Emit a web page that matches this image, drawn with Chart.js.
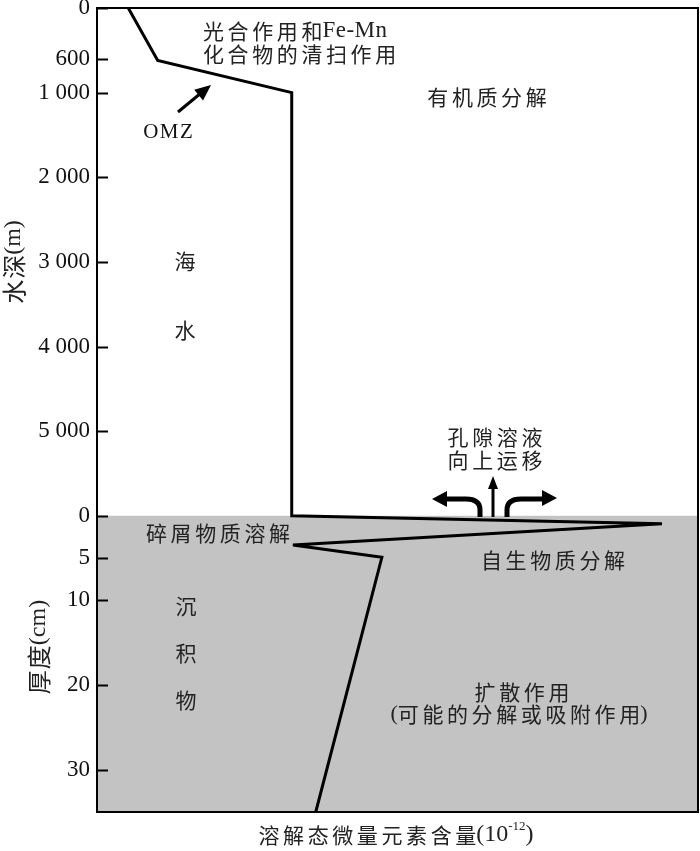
<!DOCTYPE html>
<html>
<head>
<meta charset="utf-8">
<script src="https://cdn.jsdelivr.net/npm/chart.js@4.4.1/dist/chart.umd.min.js"></script>
<style>
  html, body { margin: 0; padding: 0; background: #fff; }
  #wrap { width: 700px; height: 851px; }
</style>
</head>
<body>
<div id="wrap"><canvas id="profileCanvas" width="700" height="851"></canvas></div>
<script>
// water column part of the profile (depth in m)
const waterDepthM = [0, 620, 1000, 6000];
const waterConc = [5.2, 10.1, 32.4, 32.4];
// sediment part (depth below sea floor in cm)
const sedDepthCm = [0.95, 3.45, 4.9, 35];
const sedConc = [94.0, 32.6, 47.4, 36.4];

const seaFloorM = 6000;   // sediment 0 cm sits here on the shared axis
const cmToUnits = 100;    // 1 cm of sediment drawn as 100 m
const waterTicks = [0, 600, 1000, 2000, 3000, 4000, 5000];
const waterTickLabels = ['0', '600', '1 000', '2 000', '3 000', '4 000', '5 000'];
const sedTicks = [0, 5, 10, 20, 30];
const sedTickLabels = ['0', '5', '10', '20', '30'];

const CJK = '"Noto Sans CJK SC", "Noto Sans", sans-serif';
const SERIF = '"Liberation Serif", "DejaVu Serif", serif';
const TXT = '#222';

function sedY(cm) { return seaFloorM + cm * cmToUnits; }

const points = [];
waterDepthM.forEach((d, i) => points.push({ x: waterConc[i], y: d }));
sedDepthCm.forEach((d, i) => points.push({ x: sedConc[i], y: sedY(d) }));

const tickPos = waterTicks.concat(sedTicks.map(sedY));
const tickText = waterTickLabels.concat(sedTickLabels);

// draw a run of text pieces (each with its own font / spacing)
function drawRun(ctx, segs, x, y, align) {
    let total = 0;
    segs.forEach(s => {
        ctx.font = s.font;
        ctx.letterSpacing = (s.sp || 0) + 'px';
        s.w = ctx.measureText(s.t).width - (s.sp || 0);
        total += s.w + (s.gap || 0);
    });
    let cx = align === 'center' ? x - total / 2 : x;
    ctx.textBaseline = 'middle';
    ctx.textAlign = 'left';
    segs.forEach(s => {
        ctx.font = s.font;
        ctx.letterSpacing = (s.sp || 0) + 'px';
        ctx.fillText(s.t, cx, y + (s.dy || 0));
        cx += s.w + (s.gap || 0);
    });
    ctx.letterSpacing = '0px';
}

function cjk(t, size, sp) { return { t: t, font: size + 'px ' + CJK, sp: sp }; }
function lat(t, size, sp) { return { t: t, font: size + 'px ' + SERIF, sp: sp || 0 }; }

function arrowHead(ctx, tipX, tipY, ang, len, half) {
    ctx.beginPath();
    ctx.moveTo(tipX, tipY);
    ctx.lineTo(tipX - len * Math.cos(ang) + half * Math.sin(ang), tipY - len * Math.sin(ang) - half * Math.cos(ang));
    ctx.lineTo(tipX - len * Math.cos(ang) - half * Math.sin(ang), tipY - len * Math.sin(ang) + half * Math.cos(ang));
    ctx.closePath();
    ctx.fill();
}

const sedimentFill = {
    id: 'sedimentFill',
    beforeDatasetsDraw(chart) {
        const { ctx, chartArea: a, scales: { y } } = chart;
        const top = y.getPixelForValue(seaFloorM);
        ctx.save();
        ctx.fillStyle = '#c3c3c3';
        ctx.fillRect(a.left, top, a.right - a.left, a.bottom - top);
        ctx.restore();
    }
};

const frameAndNotes = {
    id: 'frameAndNotes',
    afterDraw(chart) {
        const { ctx, chartArea: a, scales: { y } } = chart;
        ctx.save();
        // frame
        ctx.strokeStyle = '#000';
        ctx.lineWidth = 2;
        ctx.strokeRect(a.left, a.top, a.right - a.left, a.bottom - a.top);
        // inward ticks
        tickPos.forEach(v => {
            const py = Math.round(y.getPixelForValue(v)) + 0.5;
            ctx.beginPath();
            ctx.moveTo(a.left, py);
            ctx.lineTo(a.left + 11, py);
            ctx.stroke();
        });

        ctx.fillStyle = TXT;
        // labels inside the plot
        drawRun(ctx, [cjk('光合作用和', 21, 3.6), lat('Fe-Mn', 23, 0.5)], 203, 31, 'left');
        drawRun(ctx, [cjk('化合物的清扫作用', 21, 3.6)], 203, 54, 'left');
        drawRun(ctx, [cjk('有机质分解', 21, 3.6)], 487, 97, 'center');
        ctx.fillStyle = '#111';
        drawRun(ctx, [lat('OMZ', 21, 1.5)], 168, 132, 'center');
        ctx.fillStyle = TXT;
        drawRun(ctx, [cjk('海', 21, 0)], 185, 261, 'center');
        drawRun(ctx, [cjk('水', 21, 0)], 185, 330, 'center');
        drawRun(ctx, [cjk('孔隙溶液', 21, 3.6)], 495, 437, 'center');
        drawRun(ctx, [cjk('向上运移', 21, 3.6)], 495, 460, 'center');
        drawRun(ctx, [cjk('碎屑物质溶解', 21, 3.6)], 218, 533, 'center');
        drawRun(ctx, [cjk('自生物质分解', 21, 3.6)], 553, 560, 'center');
        drawRun(ctx, [cjk('沉', 21, 0)], 186, 606, 'center');
        drawRun(ctx, [cjk('积', 21, 0)], 186, 653, 'center');
        drawRun(ctx, [cjk('物', 21, 0)], 186, 700, 'center');
        drawRun(ctx, [cjk('扩散作用', 21, 3.6)], 522, 692, 'center');
        drawRun(ctx, [lat('(', 22), cjk('可能的分解或吸附作用', 21, 3.6), lat(')', 22)], 519, 714, 'center');

        // x axis title
        drawRun(ctx, [cjk('溶解态微量元素含量', 21, 3.6), lat('(10', 24),
            { t: '-12', font: '13px ' + SERIF, sp: 0, dy: -8 }, lat(')', 24)], 396, 835, 'center');

        // y axis titles (rotated)
        ctx.save();
        ctx.translate(14, 262);
        ctx.rotate(-Math.PI / 2);
        drawRun(ctx, [cjk('水深', 24, 1), lat('(m)', 24)], 0, 0, 'center');
        ctx.restore();
        ctx.save();
        ctx.translate(39, 647);
        ctx.rotate(-Math.PI / 2);
        drawRun(ctx, [cjk('厚度', 24, 1), lat('(cm)', 24)], 0, 0, 'center');
        ctx.restore();

        // OMZ arrow
        ctx.strokeStyle = '#000';
        ctx.fillStyle = '#000';
        ctx.lineWidth = 3;
        ctx.beginPath();
        ctx.moveTo(178, 112);
        ctx.lineTo(201, 93);
        ctx.stroke();
        arrowHead(ctx, 211, 85, Math.atan2(85 - 112, 211 - 178), 16, 7);

        // pore water arrows
        ctx.lineWidth = 5;
        ctx.lineCap = 'butt';
        ctx.beginPath();
        ctx.moveTo(480, 517);
        ctx.lineTo(480, 510);
        ctx.quadraticCurveTo(480, 499, 466, 499);
        ctx.lineTo(446, 499);
        ctx.stroke();
        arrowHead(ctx, 432, 499, Math.PI, 15, 8);
        ctx.beginPath();
        ctx.moveTo(507, 517);
        ctx.lineTo(507, 510);
        ctx.quadraticCurveTo(507, 499, 521, 499);
        ctx.lineTo(542, 499);
        ctx.stroke();
        arrowHead(ctx, 557, 498, 0, 15, 8);
        ctx.lineWidth = 3;
        ctx.beginPath();
        ctx.moveTo(493, 517);
        ctx.lineTo(493, 488);
        ctx.stroke();
        arrowHead(ctx, 493, 476, -Math.PI / 2, 13, 5);
        ctx.restore();
    }
};

const ctx = document.getElementById('profileCanvas').getContext('2d');
new Chart(ctx, {
    type: 'scatter',
    data: {
        datasets: [{
            data: points,
            showLine: true,
            borderColor: '#000',
            borderWidth: 3,
            borderJoinStyle: 'miter',
            pointRadius: 0,
            tension: 0
        }]
    },
    options: {
        responsive: false,
        animation: false,
        layout: { padding: { top: 8, right: 2, left: 0, bottom: 0 } },
        plugins: { legend: { display: false }, tooltip: { enabled: false } },
        scales: {
            x: {
                type: 'linear', min: 0, max: 100,
                ticks: { display: false },
                grid: { display: false, drawTicks: false },
                border: { display: false },
                afterFit: s => { s.height = 39; s.paddingLeft = 0; s.paddingRight = 0; }
            },
            y: {
                type: 'linear', reverse: true, min: 0, max: sedY(35),
                afterBuildTicks: s => { s.ticks = tickPos.map(v => ({ value: v })); },
                ticks: {
                    autoSkip: false,
                    padding: 7,
                    color: '#111',
                    font: { family: SERIF, size: 23 },
                    callback: (v, i) => tickText[i]
                },
                grid: { display: false, drawTicks: false },
                border: { display: false },
                afterFit: s => { s.width = 97; s.paddingTop = 0; s.paddingBottom = 0; }
            }
        }
    },
    plugins: [sedimentFill, frameAndNotes]
});
</script>
</body>
</html>
